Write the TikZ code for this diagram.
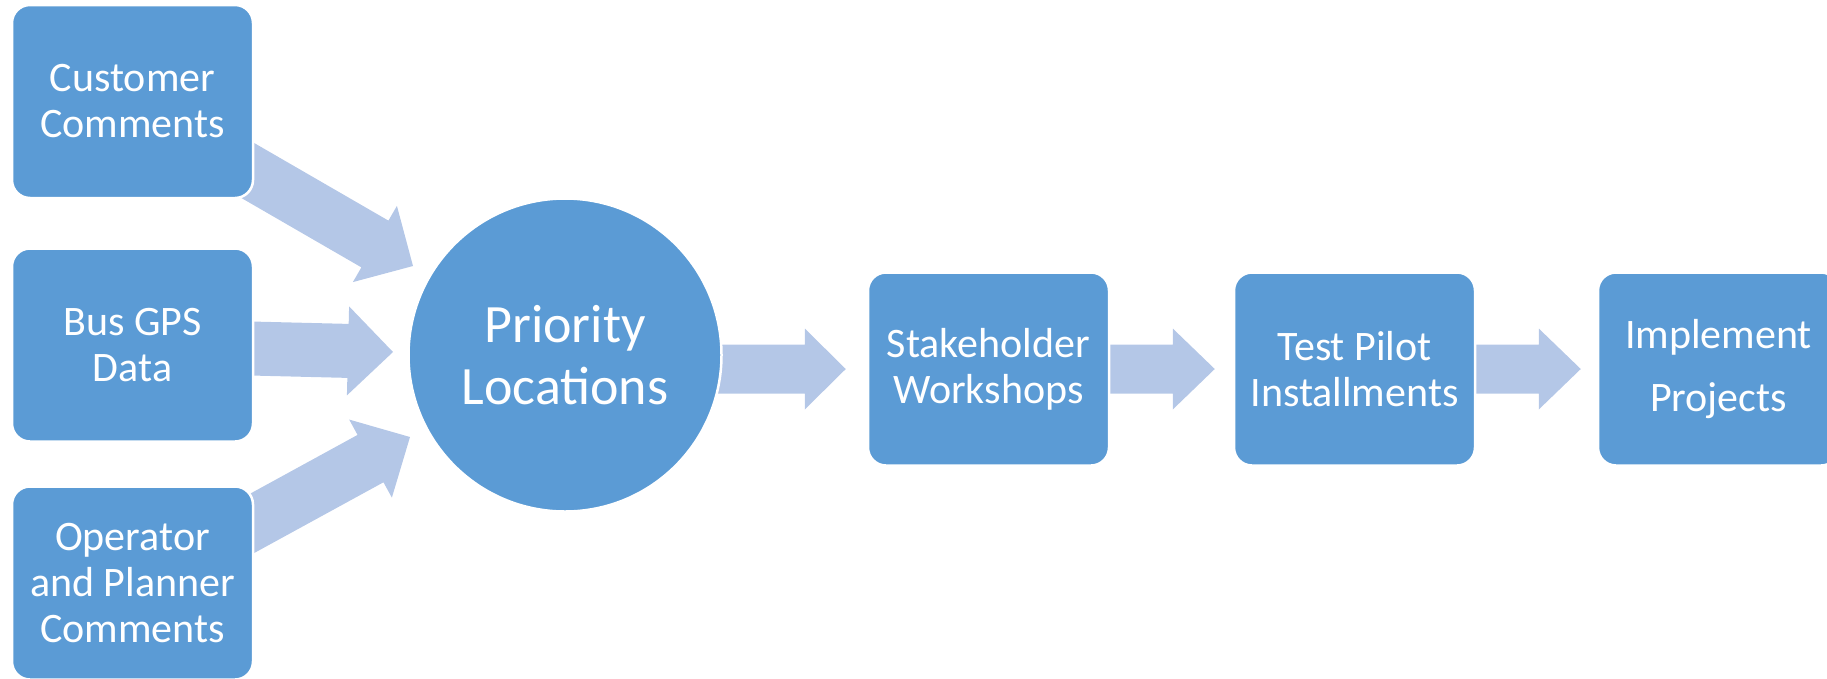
\documentclass[tikz,border=0pt]{standalone}
\usepackage{fontspec}
\setmainfont{Carlito}
\usetikzlibrary{calc,backgrounds}
\definecolor{boxblue}{HTML}{5B9BD5}
\definecolor{arrowblue}{HTML}{B4C7E7}
% #1 tail, #2 tip, #3 half shaft width, #4 half head width, #5 head length
\newcommand\fatarr[5]{%
  \coordinate (hb) at ($(#2)!#5!(#1)$);
  \fill[arrowfill] ($(#1)!#3!90:(#2)$) -- ($(hb)!#3!90:(#2)$) -- ($(hb)!#4!90:(#2)$)
    -- (#2) -- ($(hb)!#4!-90:(#2)$) -- ($(hb)!#3!-90:(#2)$) -- ($(#1)!#3!-90:(#2)$) -- cycle;
}
\begin{document}
\begin{tikzpicture}[x=1pt,y=-1pt,
  stepbox/.style={rectangle, rounded corners=18pt, fill=boxblue, draw=white,
    line width=2.5pt, minimum width=241pt, minimum height=193pt, text=white,
    align=center, font=\fontsize{42}{46}\selectfont, inner sep=0pt},
  hub/.style={circle, fill=boxblue, draw=white, line width=2.5pt,
    minimum size=313pt, text=white, align=center,
    font=\fontsize{54}{62}\selectfont, inner sep=0pt},
  arrowfill/.style={fill=arrowblue}]
\useasboundingbox (0,0) rectangle (1827,678);
\node[stepbox] (cust) at (132.5,101.5) {Customer\\Comments};
\node[stepbox] (gps) at (132.5,345) {Bus GPS\\Data};
\node[stepbox] (oper) at (132.5,583) {Operator\\and Planner\\Comments};
\node[hub] (prio) at (565,355) {Priority\\Locations};
\node[stepbox] (stake) at (988.5,369) {Stakeholder\\Workshops};
\node[stepbox] (pilot) at (1354.5,369) {Test Pilot\\Installments};
\node[stepbox] (impl) at (1718.5,369) {Implement\\[17pt]Projects};
\begin{scope}[on background layer]
  \coordinate (a1s) at ($(cust.center)+(107.5,64.5)$);
  \coordinate (a1e) at ($(prio.center)+(-152,-89)$);
  \coordinate (a2s) at ($(gps.center)+(98,3)$);
  \coordinate (a2e) at ($(prio.center)+(-172,-3)$);
  \coordinate (a3s) at ($(oper.center)+(107.5,-53)$);
  \coordinate (a3e) at ($(prio.center)+(-155,82)$);
  \coordinate (a4s) at ($(stake.west)+(-168,0)$);
  \coordinate (a4e) at ($(stake.west)+(-21,0)$);
  \coordinate (a5s) at ($(stake.east)+(-9,0)$);
  \coordinate (a5e) at ($(pilot.west)+(-18,0)$);
  \coordinate (a6s) at ($(pilot.east)+(-10,0)$);
  \coordinate (a6e) at ($(impl.west)+(-16,0)$);
  \fatarr{a1s}{a1e}{27pt}{44pt}{44pt}
  \fatarr{a2s}{a2e}{27pt}{44.5pt}{45pt}
  \fatarr{a3s}{a3e}{27pt}{44.5pt}{45pt}
  \fatarr{a4s}{a4e}{24.5pt}{40.5pt}{41pt}
  \fatarr{a5s}{a5e}{24.5pt}{40.5pt}{42pt}
  \fatarr{a6s}{a6e}{24.5pt}{40.5pt}{42pt}
\end{scope}
\end{tikzpicture}
\end{document}
